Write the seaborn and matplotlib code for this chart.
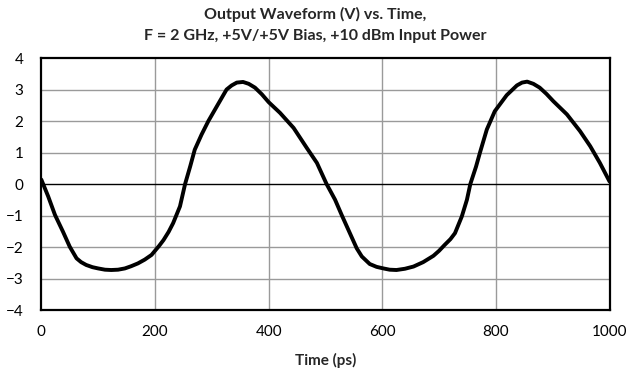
import matplotlib
matplotlib.use("Agg")
import matplotlib.pyplot as plt
import seaborn as sns
import pandas as pd

# Sampled output waveform (time in ps, voltage in V)
time_ps = [0, 12, 24, 38, 50, 62, 70, 79, 90, 100, 112, 123, 135, 147, 158,
           170, 182, 194, 200, 207, 215, 224, 232, 244, 253, 262, 270, 282,
           294, 309, 326, 335, 344, 355, 365, 376, 388, 400, 420, 444, 467,
           485, 502, 517, 529, 543, 555, 564, 578, 590, 602, 613, 625, 640,
           655, 672, 690, 700, 710, 720, 728, 740, 749, 755, 765, 772, 784,
           798, 819, 837, 846, 855, 866, 877, 889, 901, 925, 948, 966, 983,
           1000]
volts = [0.14, -0.39, -0.98, -1.51, -1.99, -2.36, -2.48, -2.57, -2.64, -2.68,
         -2.72, -2.73, -2.72, -2.68, -2.61, -2.52, -2.40, -2.25, -2.12, -1.97,
         -1.78, -1.52, -1.24, -0.71, 0.0, 0.56, 1.09, 1.57, 2.0, 2.47, 3.0,
         3.13, 3.22, 3.24, 3.18, 3.06, 2.85, 2.6, 2.26, 1.78, 1.15, 0.67, 0.0,
         -0.5, -1.0, -1.56, -2.04, -2.3, -2.54, -2.63, -2.68, -2.72, -2.73,
         -2.69, -2.62, -2.48, -2.28, -2.12, -1.93, -1.75, -1.56, -1.03, -0.5,
         0.0, 0.55, 1.0, 1.73, 2.31, 2.82, 3.13, 3.22, 3.25, 3.18, 3.06, 2.86,
         2.63, 2.21, 1.68, 1.2, 0.67, 0.08]

x_ticks = [0, 200, 400, 600, 800, 1000]
y_ticks = [-4, -3, -2, -1, 0, 1, 2, 3, 4]

title_lines = ["Output Waveform (V) vs. Time,",
               "F = 2 GHz, +5V/+5V Bias, +10 dBm Input Power"]
x_label = "Time (ps)"

sns.set_theme(style="white")
plt.rcParams["font.family"] = ["Lato", "DejaVu Sans"]

df = pd.DataFrame({"t": time_ps, "v": volts})

fig = plt.figure(figsize=(6.31, 3.75), dpi=100)
ax = fig.add_axes([0.0655, 0.1733, 0.9005, 0.672])

ax.set_xlim(0, 1000)
ax.set_ylim(-4, 4)
ax.set_xticks(x_ticks)
ax.set_yticks(y_ticks)

# gray grid, black zero line
for xv in x_ticks[1:-1]:
    ax.axvline(xv, color="#9a9a9a", lw=1.0, zorder=1)
for yv in y_ticks[1:-1]:
    if yv == 0:
        ax.axhline(0, color="black", lw=1.0, zorder=1.5)
    else:
        ax.axhline(yv, color="#9a9a9a", lw=1.0, zorder=1)

sns.lineplot(data=df, x="t", y="v", ax=ax, color="black", lw=2.8,
             zorder=3, estimator=None)

for s in ax.spines.values():
    s.set_visible(True)
    s.set_color("black")
    s.set_linewidth(1.6)

ax.tick_params(axis="both", length=0, labelsize=11, colors="black")
ax.tick_params(axis="y", pad=13)
ax.tick_params(axis="x", pad=11)
ax.set_xlabel(x_label, fontsize=11, fontweight="bold", labelpad=10)
ax.set_ylabel("")

fig.text(0.5, 0.962, title_lines[0], ha="center", va="center",
         fontsize=11.5, fontweight="bold")
fig.text(0.5, 0.905, title_lines[1], ha="center", va="center",
         fontsize=11.5, fontweight="bold")

fig.savefig("out.png", dpi=100, facecolor="white")
